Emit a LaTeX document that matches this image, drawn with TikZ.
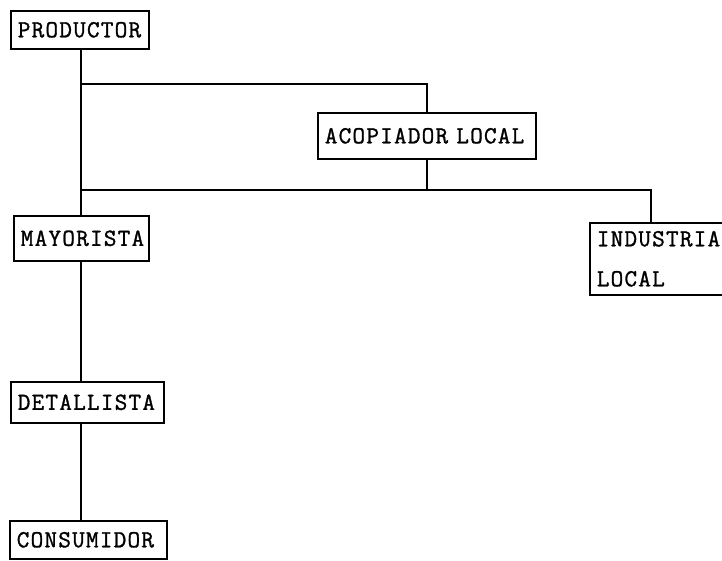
\documentclass[tikz,border=0pt]{standalone}
\usepackage{fontspec}
\newfontfamily\tw{Latin Modern Mono}[LetterSpace=5,FakeBold=1.2]
\begin{document}
\begin{tikzpicture}[x=1pt,y=-1pt,
  box/.style={draw, line width=1.6pt, anchor=north west, inner xsep=7pt, inner ysep=0pt,
    align=left, font=\tw\fontsize{24.5}{40}\selectfont},
  conn/.style={line width=1.6pt}]
\useasboundingbox (0,0) rectangle (722,560);
\clip (0,0) rectangle (722,560);
\node[box, minimum width=138pt, minimum height=38pt, text width=124pt] (prod) at (10,10) {PRODUCTOR};
\node[box, minimum width=218pt, minimum height=46pt, text width=204pt] (acop) at (317,112) {ACOPIADOR LOCAL};
\node[box, minimum width=170pt, minimum height=72pt, text width=156pt] (ind) at (589,222) {INDUSTRIA\\LOCAL};
\node[box, minimum width=135pt, minimum height=45pt, text width=121pt] (may) at (13,215) {MAYORISTA};
\node[box, minimum width=153pt, minimum height=41pt, text width=139pt] (det) at (10,381) {DETALLISTA};
\node[box, minimum width=157pt, minimum height=38pt, text width=143pt] (cons) at (9,520) {CONSUMIDOR};
\coordinate (t) at (81,0);
\coordinate (j1) at (81,84);
\coordinate (j2) at (81,190);
\draw[conn] (prod.south -| t) -- (may.north -| t);
\draw[conn] (may.south -| t) -- (det.north -| t);
\draw[conn] (det.south -| t) -- (cons.north -| t);
\draw[conn] (j1) -| (acop.north);
\draw[conn] (acop.south) -- (acop.south |- j2);
\draw[conn] (j2) -| ([xshift=62pt]ind.north west);
\end{tikzpicture}
\end{document}
